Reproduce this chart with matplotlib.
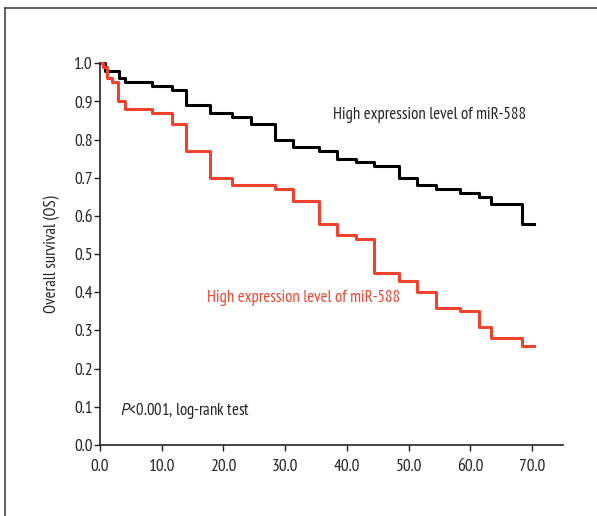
import matplotlib
matplotlib.use('Agg')
import matplotlib.pyplot as plt
from matplotlib.lines import Line2D

plt.rcParams['font.family'] = ['PT Sans Narrow', 'DejaVu Sans']
plt.rcParams['mathtext.fontset'] = 'custom'
plt.rcParams['mathtext.it'] = 'PT Sans:italic'

# survival curves
t_black = [0, 0.8, 3.0, 4.1, 8.4, 11.6, 14.0, 17.8, 21.4, 24.5, 28.3, 31.3, 35.4,
           38.4, 41.5, 44.4, 48.4, 51.4, 54.4, 58.4, 61.4, 63.4, 68.3, 70.3]
s_black = [1.0, 0.98, 0.96, 0.95, 0.94, 0.93, 0.89, 0.87, 0.86, 0.84, 0.80, 0.78, 0.77,
           0.75, 0.74, 0.73, 0.70, 0.68, 0.67, 0.66, 0.65, 0.63, 0.58, 0.58]

t_red = [0, 0.5, 1.1, 2.0, 2.9, 4.1, 8.4, 11.6, 14.0, 17.8, 21.4, 28.3, 31.3, 35.4,
         38.4, 41.5, 44.4, 48.4, 51.4, 54.4, 58.4, 61.4, 63.4, 68.3, 70.3]
s_red = [1.0, 0.99, 0.96, 0.95, 0.90, 0.88, 0.87, 0.84, 0.77, 0.70, 0.68, 0.67, 0.64, 0.58,
         0.55, 0.54, 0.45, 0.43, 0.40, 0.36, 0.35, 0.31, 0.28, 0.26, 0.26]

xticks = [0, 10, 20, 30, 40, 50, 60, 70]
yticks = [0.0, 0.1, 0.2, 0.3, 0.4, 0.5, 0.6, 0.7, 0.8, 0.9, 1.0]

red = '#f0432f'
ink = '#222222'

fig = plt.figure(figsize=(5.97, 5.16), dpi=100)
ax = fig.add_axes([0.1675, 0.1376, 0.7755, 0.740])

ax.step(t_black, s_black, where='post', color='black', lw=2.2, clip_on=False)
ax.step(t_red, s_red, where='post', color=red, lw=2.2, clip_on=False)

ax.set_xlim(0, 75)
ax.set_ylim(0, 1.0)
ax.set_xticks(xticks)
ax.set_xticklabels([f'{v:.1f}' for v in xticks])
ax.set_yticks(yticks)
ax.set_yticklabels([f'{v:.1f}' for v in yticks])
ax.tick_params(direction='out', length=4, width=1, labelsize=12.5, colors=ink)
ax.tick_params(axis='x', pad=6)
ax.tick_params(axis='y', pad=1)
for side in ['top', 'right']:
    ax.spines[side].set_visible(False)
for side in ['left', 'bottom']:
    ax.spines[side].set_linewidth(1.2)
    ax.spines[side].set_color(ink)

ax.set_ylabel('Overall survival (OS)', fontsize=12, color=ink, labelpad=10)

ax.text(37.8, 0.865, 'High expression level of miR-588', fontsize=12, color=ink,
        va='center')
ax.text(17.4, 0.385, 'High expression level of miR-588', fontsize=12, color=red,
        va='center')
ax.text(3.2, 0.09, '$P$<0.001, log-rank test', fontsize=12, color=ink,
        va='center')

# figure frame (only top and left edges visible)
fig.add_artist(Line2D([5 / 597, 1.0], [1 - 8 / 516, 1 - 8 / 516],
                      transform=fig.transFigure, color='#444444', lw=1.2))
fig.add_artist(Line2D([5 / 597, 5 / 597], [0, 1 - 8 / 516],
                      transform=fig.transFigure, color='#444444', lw=1.2))

fig.savefig('out.png', dpi=100)
